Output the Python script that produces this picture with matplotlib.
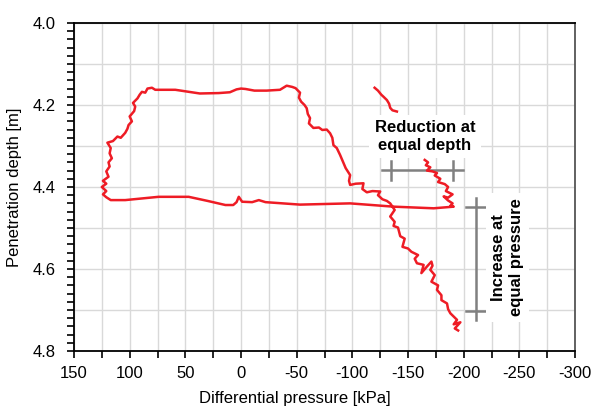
import matplotlib
matplotlib.use("Agg")
import matplotlib.pyplot as plt
from matplotlib.ticker import MultipleLocator

plt.rcParams['font.family'] = ['Liberation Sans', 'DejaVu Sans']
plt.rcParams['font.size'] = 12
plt.rcParams['axes.unicode_minus'] = False

# first short push (top right)
p_start = [-120, -123, -126, -128, -131, -133, -134, -136, -140]
d_start = [4.158, 4.165, 4.175, 4.180, 4.188, 4.197, 4.207, 4.213, 4.216]

# reduction part -> unloading (horizontal) -> pull up (left) -> top -> second push down
p_main = [-165, -168, -166, -170, -167, -172, -176, -174, -179, -177, -183, -186, -184, -190, -186, -182, -186, -190, -188, -191,
          -173, -137, -98, -53, -22, -16, -10, -1, 2, 4, 7, 14, 30, 47, 74, 104, 117, 121,
          124, 121, 125, 121, 124, 119, 121, 118, 119, 116, 118, 117, 120, 115, 111, 108, 104, 102, 101, 98, 100, 96, 95, 97, 93, 91, 89, 86, 84, 80, 77,
          59, 37, 20, 10, 4, 0, -4, -12, -23, -35, -41, -46, -49,
          -53, -52, -54, -57, -59, -60, -62, -61, -65, -70, -73, -77, -80, -82, -83, -86, -89, -91, -94, -98, -97, -98, -103, -110, -109, -113, -118, -125, -123, -127, -131, -134,
          -138, -134, -138, -137, -141, -143, -147, -145, -150, -153, -159, -156, -158, -164, -162, -167, -171, -172, -170, -174, -171, -177, -176, -180, -180, -185, -186, -188, -194, -191, -197, -192, -195]
d_main = [4.334, 4.340, 4.347, 4.352, 4.360, 4.362, 4.366, 4.372, 4.380, 4.388, 4.393, 4.400, 4.410, 4.418, 4.426, 4.423, 4.433, 4.440, 4.446, 4.448,
          4.452, 4.448, 4.440, 4.443, 4.437, 4.432, 4.437, 4.436, 4.424, 4.437, 4.444, 4.444, 4.434, 4.424, 4.424, 4.432, 4.432, 4.425,
          4.418, 4.410, 4.400, 4.392, 4.385, 4.375, 4.362, 4.350, 4.340, 4.330, 4.318, 4.305, 4.292, 4.288, 4.277, 4.280, 4.268, 4.258, 4.249, 4.240, 4.228, 4.215, 4.204, 4.195, 4.184, 4.175, 4.168, 4.170, 4.160, 4.158, 4.163,
          4.163, 4.172, 4.171, 4.169, 4.162, 4.160, 4.161, 4.165, 4.165, 4.163, 4.153, 4.156, 4.159,
          4.170, 4.182, 4.192, 4.200, 4.208, 4.222, 4.232, 4.245, 4.256, 4.255, 4.261, 4.260, 4.269, 4.280, 4.298, 4.305, 4.322, 4.335, 4.354, 4.371, 4.385, 4.395, 4.392, 4.391, 4.405, 4.413, 4.410, 4.411, 4.420, 4.430, 4.434, 4.440,
          4.456, 4.472, 4.485, 4.495, 4.499, 4.520, 4.526, 4.546, 4.550, 4.558, 4.566, 4.575, 4.586, 4.590, 4.610, 4.594, 4.582, 4.592, 4.602, 4.615, 4.631, 4.640, 4.651, 4.664, 4.676, 4.684, 4.698, 4.708, 4.724, 4.735, 4.730, 4.745, 4.750]

# annotation markers
red_depth = 4.359
red_p = [-135, -190.7]
inc_p = -210.8
inc_d = [4.45, 4.702]

fig = plt.figure(figsize=(5.91, 4.07), dpi=100)
ax = fig.add_axes([0.1252, 0.1376, 0.8478, 0.806])

red = '#ee1c25'
ax.plot(p_start, d_start, color=red, lw=1.8, zorder=4)
ax.plot(p_main, d_main, color=red, lw=1.8, zorder=4)

gray = '#808080'
# reduction at equal depth
ax.plot([-126.4, -199.7], [red_depth, red_depth], color=gray, lw=1.8, zorder=3)
for p in red_p:
    ax.plot([p, p], [4.336, 4.383], color=gray, lw=1.8, zorder=3)
# increase at equal pressure
ax.plot([inc_p, inc_p], [4.426, 4.724], color=gray, lw=1.8, zorder=3)
for d in inc_d:
    ax.plot([-201.8, -219.5], [d, d], color=gray, lw=1.8, zorder=3)

box = dict(facecolor='white', edgecolor='none', pad=4)
ax.text(-165.3, 4.277, 'Reduction at\nequal depth', ha='center', va='center',
        fontweight='bold', bbox=box, zorder=3)
ax.text(-239.5, 4.571, 'Increase at\nequal pressure', ha='center', va='center',
        rotation=90, fontweight='bold', bbox=box, zorder=3)

ax.set_xlim(150, -300)
ax.set_ylim(4.8, 4.0)
ax.xaxis.set_major_locator(MultipleLocator(50))
ax.xaxis.set_minor_locator(MultipleLocator(25))
ax.yaxis.set_minor_locator(MultipleLocator(0.02))
ax.set_yticks([4.0, 4.2, 4.4, 4.6, 4.8])
ax.set_yticklabels(['4.0', '4.2', '4.4', '4.6', '4.8'])

# grid: every 25 kPa and every 0.1 m
ax.grid(True, which='major', axis='both', color='#d9d9d9', lw=1, zorder=0)
ax.xaxis.grid(True, which='minor', color='#d9d9d9', lw=1)
for yv in [4.1, 4.3, 4.5, 4.7]:
    ax.axhline(yv, color='#d9d9d9', lw=1, zorder=0)
ax.set_axisbelow(True)

ax.tick_params(which='both', direction='out', length=5, width=1.2, color='black')
ax.tick_params(axis='x', which='major', pad=6)
ax.tick_params(axis='y', which='major', pad=8)

for s in ax.spines.values():
    s.set_linewidth(1.3)
ax.spines['right'].set_color('#555555')

ax.set_xlabel('Differential pressure [kPa]', labelpad=7, x=0.441)
ax.set_ylabel('Penetration depth [m]', labelpad=8)

fig.savefig('out.png', dpi=100)
